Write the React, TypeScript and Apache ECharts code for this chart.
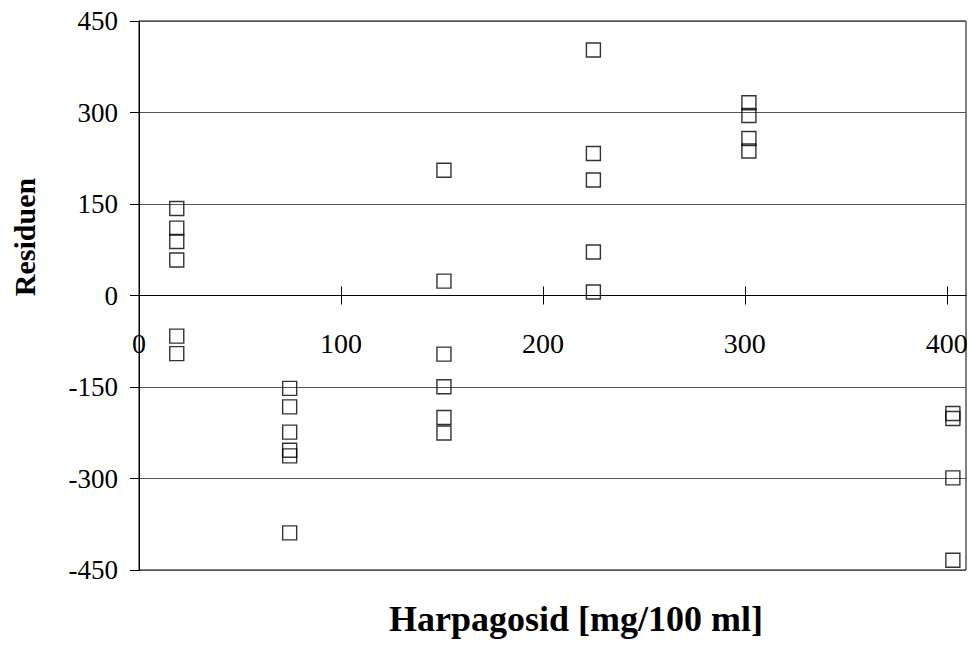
import React, { useEffect, useRef } from "react";
import * as echarts from "echarts";

const xTickValues = [0, 100, 200, 300, 400];
const yTickInterval = 150;

const xGroups = [18.7, 74.6, 151, 225, 302, 403];
const residuals: number[][] = [
  [142.7, 110.5, 88.6, 58.1, -66.6, -95.3],
  [-152.2, -182.5, -224, -253.6, -262.9, -389.2],
  [205.3, 23.6, -96.1, -149.7, -200.1, -225.5],
  [402.5, 232.9, 189.4, 71.3, 5.7],
  [316, 295.2, 257.5, 236.8],
  [-193.5, -201.7, -299, -434],
];

const xTitle = "Harpagosid [mg/100 ml]";
const yTitle = "Residuen";

const FONT = "'Liberation Serif', 'Times New Roman', serif";

export default function App() {
  const ref = useRef<HTMLDivElement>(null);
  useEffect(() => {
    if (!ref.current) return;
    const chart = echarts.init(ref.current, null, { renderer: "svg" });
    const points: number[][] = [];
    xGroups.forEach((x, i) => residuals[i].forEach((y) => points.push([x, y])));
    const yBase = { type: "value", min: -450, max: 450, interval: yTickInterval };
    chart.setOption({
      animation: false,
      backgroundColor: "#fff",
      textStyle: { fontFamily: FONT },
      grid: {
        left: 139,
        top: 21,
        right: 6,
        bottom: 77,
        show: true,
        borderColor: "#000",
        borderWidth: 1,
        backgroundColor: "transparent",
      },
      xAxis: [
        {
          type: "value",
          position: "bottom",
          min: 0,
          max: 409.5,
          interval: 100,
          axisLine: { show: true, onZero: true, onZeroAxisIndex: 0, lineStyle: { color: "#000", width: 1 } },
          axisTick: { show: true, length: 9, customValues: xTickValues, lineStyle: { color: "#000" } },
          axisLabel: {
            show: true,
            customValues: xTickValues,
            margin: -241,
            fontSize: 28,
            color: "#000",
            fontFamily: FONT,
          },
          splitLine: { show: false },
        },
        {
          type: "value",
          position: "top",
          min: 0,
          max: 409.5,
          interval: 100,
          axisLine: { show: true, onZero: true, onZeroAxisIndex: 1, lineStyle: { color: "#000", width: 1 } },
          axisTick: { show: true, length: 9, customValues: xTickValues, lineStyle: { color: "#000" } },
          axisLabel: { show: false },
          splitLine: { show: false },
        },
      ],
      yAxis: [
        {
          ...yBase,
          position: "left",
          axisLine: { show: true, onZero: false, lineStyle: { color: "#000", width: 1 } },
          axisTick: { show: true, length: 9, lineStyle: { color: "#000" } },
          axisLabel: { margin: 21, fontSize: 27, color: "#000", fontFamily: FONT },
          splitLine: { show: true, lineStyle: { color: "#555", width: 1 } },
        },
        {
          ...yBase,
          position: "right",
          axisLine: { show: false, onZero: false },
          axisTick: { show: false },
          axisLabel: { show: false },
          splitLine: { show: false },
        },
      ],
      graphic: [
        {
          type: "text",
          x: 24,
          y: 237,
          rotation: Math.PI / 2,
          style: {
            text: yTitle,
            font: `bold 30px ${FONT}`,
            fill: "#000",
            align: "center",
            verticalAlign: "middle",
          },
        },
        {
          type: "text",
          x: 576,
          y: 619,
          style: {
            text: xTitle,
            font: `bold 36px ${FONT}`,
            fill: "#000",
            align: "center",
            verticalAlign: "middle",
          },
        },
      ],
      series: [
        {
          type: "scatter",
          xAxisIndex: 0,
          yAxisIndex: 0,
          data: points,
          symbol: "rect",
          symbolSize: 14,
          itemStyle: { color: "transparent", borderColor: "#000", borderWidth: 1.4 },
          emphasis: { disabled: true },
        },
      ],
    });
    return () => chart.dispose();
  }, []);
  return (
    <div
      ref={ref}
      style={{ position: "fixed", left: 0, top: 0, width: 972, height: 647 }}
    />
  );
}
